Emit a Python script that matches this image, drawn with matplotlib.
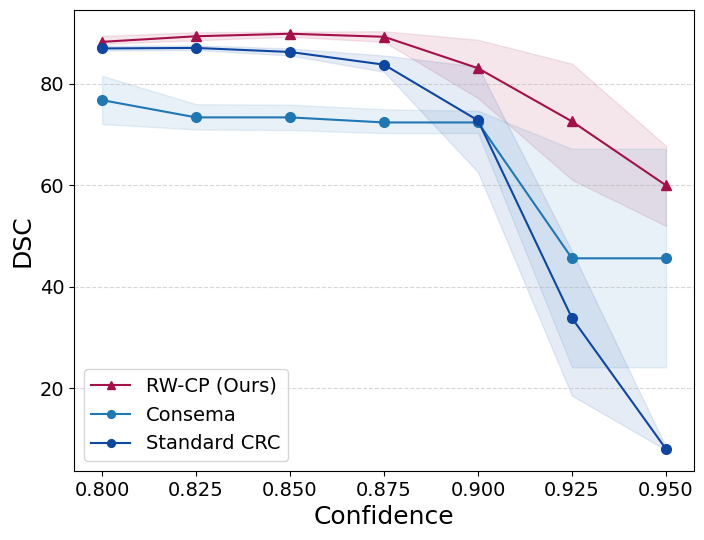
import matplotlib
matplotlib.use("Agg")
import matplotlib.pyplot as plt

confidence = [0.800, 0.825, 0.850, 0.875, 0.900, 0.925, 0.950]

rwcp_mean = [88.3, 89.4, 89.9, 89.3, 83.1, 72.6, 60.0]
rwcp_low = [87.9, 88.6, 89.3, 88.3, 77.2, 61.1, 52.0]
rwcp_high = [89.5, 90.2, 90.3, 90.4, 88.7, 84.0, 67.8]

consema_mean = [76.8, 73.4, 73.4, 72.4, 72.4, 45.6, 45.6]
consema_low = [72.1, 71.0, 70.9, 70.3, 70.3, 24.1, 24.1]
consema_high = [81.6, 76.0, 75.9, 75.0, 74.7, 67.2, 67.2]

crc_mean = [87.0, 87.1, 86.3, 83.8, 72.8, 33.8, 8.0]
crc_low = [86.6, 86.7, 85.6, 82.4, 62.6, 18.5, 7.8]
crc_high = [87.5, 87.6, 87.0, 85.6, 83.4, 47.0, 8.4]

C_RW = "#a50f4a"
C_CONS = "#1f77b4"
C_CRC = "#0d47a1"

fig, ax = plt.subplots(figsize=(7.04, 5.4), dpi=100)

ax.plot(confidence, rwcp_mean, marker="^", color=C_RW, linewidth=1.5,
        markersize=7, label="RW-CP (Ours)")
ax.fill_between(confidence, rwcp_low, rwcp_high, color=C_RW, alpha=0.1)

ax.plot(confidence, consema_mean, marker="o", color=C_CONS, linewidth=1.5,
        markersize=7, label="Consema")
ax.fill_between(confidence, consema_low, consema_high, color=C_CONS, alpha=0.1)

ax.plot(confidence, crc_mean, marker="o", color=C_CRC, linewidth=1.5,
        markersize=7, label="Standard CRC")
ax.fill_between(confidence, crc_low, crc_high, color=C_CRC, alpha=0.1)

ax.set_xticks(confidence)
ax.set_xticklabels([f"{c:.3f}" for c in confidence])
ax.tick_params(labelsize=14)
ax.set_xlabel("Confidence", fontsize=18)
ax.set_ylabel("DSC", fontsize=18)
ax.grid(True, axis="y", linestyle="--", alpha=0.5)
ax.legend(fontsize=14, loc="lower left", markerscale=0.8)

fig.subplots_adjust(left=0.105, right=0.986, top=0.981, bottom=0.128)
fig.savefig("out.png", dpi=100)
